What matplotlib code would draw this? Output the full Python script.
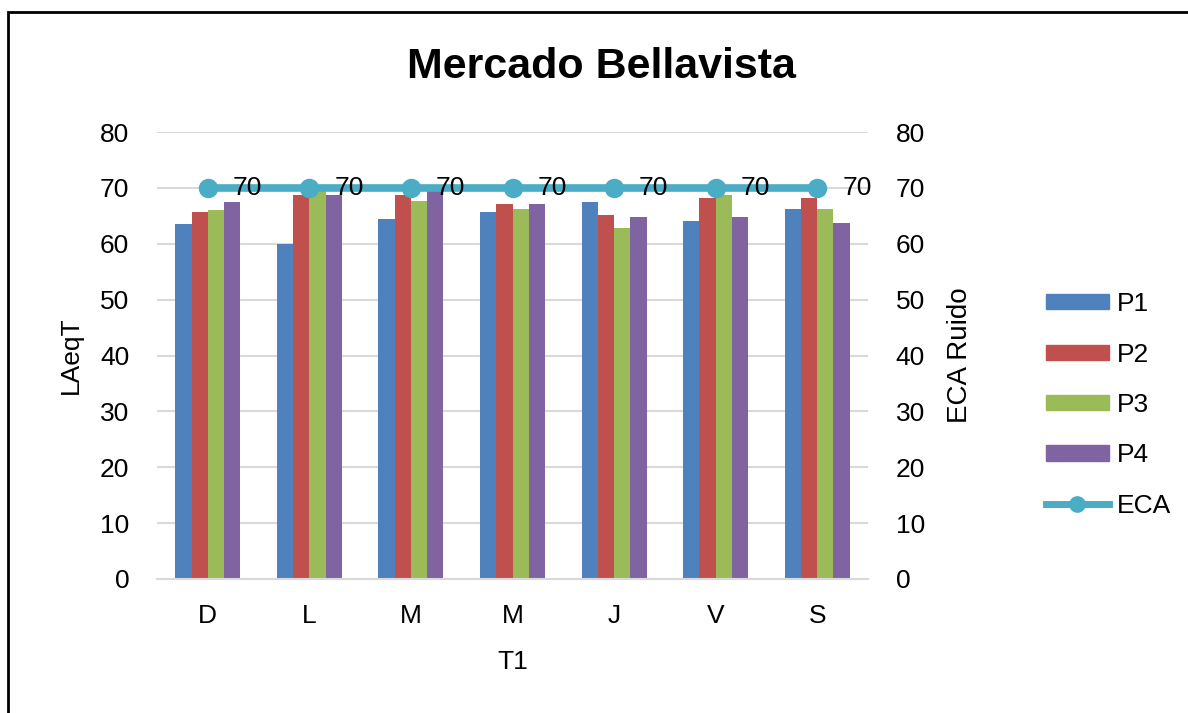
import matplotlib
matplotlib.use("Agg")
import matplotlib.pyplot as plt
from matplotlib.patches import Rectangle
from matplotlib.lines import Line2D
import numpy as np

plt.rcParams['font.family'] = ['Liberation Sans', 'DejaVu Sans']

categories = ["D", "L", "M", "M", "J", "V", "S"]
p1 = [63.5, 59.9, 64.4, 65.7, 67.4, 64.0, 66.3]
p2 = [65.7, 68.8, 68.8, 67.1, 65.1, 68.2, 68.2]
p3 = [66.0, 69.4, 67.6, 66.3, 62.9, 68.8, 66.3]
p4 = [67.4, 68.8, 69.5, 67.1, 64.8, 64.8, 63.8]
eca = [70, 70, 70, 70, 70, 70, 70]
series = [("P1", p1, "#4F81BD"), ("P2", p2, "#C0504D"),
          ("P3", p3, "#9BBB59"), ("P4", p4, "#8064A2")]
eca_color = "#4BACC6"

W, H = 1188, 713
fig = plt.figure(figsize=(W / 100, H / 100), dpi=100)

# outer frame
fig.patches.append(Rectangle((8 / W, -0.05), 1.2, (H - 12) / H + 0.05,
                             transform=fig.transFigure, fill=False,
                             edgecolor="black", linewidth=2))

ax = fig.add_axes([157 / W, 1 - 579 / H, (868 - 157) / W, (579 - 132) / H])
x = np.arange(len(categories))
bw = 0.16
for i, (name, vals, col) in enumerate(series):
    ax.bar(x + (i - 1.5) * bw, vals, width=bw, color=col, label=name, zorder=2)

ax.set_xlim(-0.5, len(categories) - 0.5)
ax.set_ylim(0, 80)
ax.set_yticks(range(0, 81, 10))
ax.set_xticks(x)
ax.set_xticklabels(categories)
ax.grid(axis="y", color="#d9d9d9", linewidth=1.5, zorder=0)
ax.set_axisbelow(True)
for s in ["top", "left", "right"]:
    ax.spines[s].set_visible(False)
ax.spines["bottom"].set_color("#d9d9d9")
ax.spines["bottom"].set_linewidth(1.5)
ax.tick_params(axis="y", length=0, labelsize=19, pad=20)
ax.tick_params(axis="x", length=0, labelsize=19, pad=18)
ax.set_ylabel("LAeqT", fontsize=19, labelpad=12)
ax.set_xlabel("T1", fontsize=19, labelpad=16)

ax2 = ax.twinx()
ax2.set_ylim(0, 80)
ax2.set_yticks(range(0, 81, 10))
for s in ["top", "left", "right", "bottom"]:
    ax2.spines[s].set_visible(False)
ax2.tick_params(axis="y", length=0, labelsize=19, pad=20)
ax2.plot(x, eca, color=eca_color, linewidth=5.5, marker="o", markersize=13,
         label="ECA", zorder=3)
for xi, v in zip(x, eca):
    ax2.annotate(f"{v:g}", (xi, v), xytext=(18, 0), textcoords="offset points",
                 ha="left", va="center", fontsize=19)
ax2.set_ylabel("ECA Ruido", fontsize=20, labelpad=16)

fig.text(601 / W, 1 - 67 / H, "Mercado Bellavista", fontsize=31,
         fontweight="bold", ha="center", va="center")

handles = [Rectangle((0, 0), 1, 1, color=c) for _, _, c in series]
handles.append(Line2D([], [], color=eca_color, linewidth=5, marker="o",
                      markersize=11))
labels = [n for n, _, _ in series] + ["ECA"]
fig.legend(handles, labels, loc="center left",
           bbox_to_anchor=(1022 / W, 1 - 405 / H), frameon=False,
           fontsize=19, handlelength=2.4, handleheight=0.5,
           labelspacing=1.0, handletextpad=0.3)

fig.savefig("out.png", dpi=100)
